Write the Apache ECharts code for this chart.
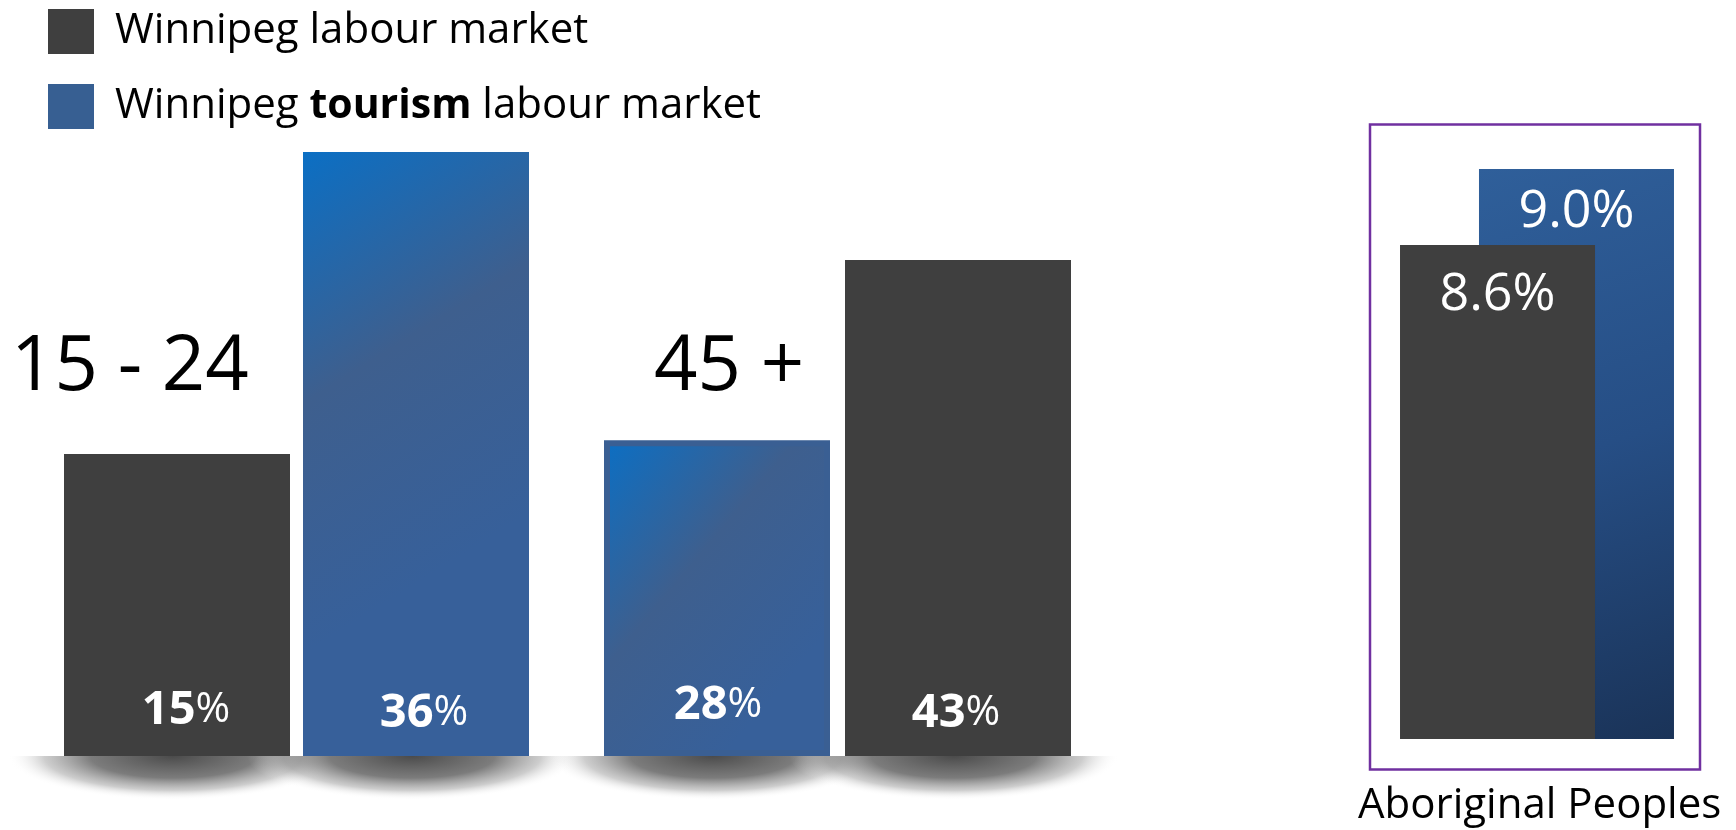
<!DOCTYPE html>
<html>
<head>
<meta charset="utf-8">
<script src="https://cdn.jsdelivr.net/npm/echarts@6/dist/echarts.min.js"></script>
<style>
html,body{margin:0;padding:0;background:#fff;}
#chart{width:1736px;height:830px;}
</style>
</head>
<body>
<div id="chart"></div>
<script>
// ---- data ----
const seriesNames = ['Winnipeg labour market', 'Winnipeg tourism labour market'];
const categoriesYoung = ['15 - 24'];
const categoriesOld = ['45 +'];
const categoriesAboriginal = ['Aboriginal Peoples'];
const winnipegYoung = [15];
const tourismYoung = [36];
const tourismOld = [28];
const winnipegOld = [43];
const winnipegAboriginal = [8.6];
const tourismAboriginal = [9.0];

// ---- styling ----
const FONT = 'Open Sans';
const DARK = '#3f3f3f';
const chart = echarts.init(document.getElementById('chart'), null, {renderer: 'canvas'});
const G = echarts.graphic;

const mkBlue = () => new G.LinearGradient(0, 0, 1, 0.6, [
  {offset: 0, color: '#0b6fc4'},
  {offset: 0.5, color: '#3e5f8e'},
  {offset: 1, color: '#37609a'}
]);
const blueAboriginal = new G.LinearGradient(0, 0, 1, 1, [
  {offset: 0, color: '#2f5f9a'},
  {offset: 0.5, color: '#264e85'},
  {offset: 1, color: '#1a3358'}
]);

const BAR_W = 226;
const GAP_A = 13, GAP_B = 15;

function pctLabel(dist, dx) {
  return {
    show: true, position: 'insideBottom', distance: dist, offset: [dx, 0],
    formatter: p => '{n|' + p.value + '}{p|%}',
    rich: {
      n: {fontFamily: FONT, fontSize: 47, fontWeight: 'bold', color: '#fff'},
      p: {fontFamily: FONT, fontSize: 42, color: '#fff'}
    }
  };
}
function aboriginalLabel(dist) {
  return {
    show: true, position: 'insideTop', distance: dist,
    formatter: p => Number(p.value).toFixed(1) + '%',
    fontFamily: FONT, fontSize: 52, color: '#fff'
  };
}
function shadowSeries(gridIdx, cats, gap, yBase) {
  return {
    type: 'custom', xAxisIndex: gridIdx, yAxisIndex: gridIdx, z: 1, silent: true,
    data: cats.map((c, i) => [i, yBase]),
    encode: {x: 0, y: 1},
    renderItem: (params, api) => {
      const pt = api.coord([api.value(0), api.value(1)]);
      const off = (BAR_W + gap) / 2;
      const RX = 165, RY = 44;
      return {
        type: 'group',
        children: [-1, 1].map(s => ({
          type: 'sector', x: pt[0] + s * off - 4, y: pt[1], scaleY: RY / RX,
          shape: {cx: 0, cy: 0, r: RX, r0: 0, startAngle: 0, endAngle: Math.PI, clockwise: true},
          style: {
            fill: new G.RadialGradient(0.5, 0, 1, [
              {offset: 0, color: 'rgba(55,55,55,0.9)'},
              {offset: 0.5, color: 'rgba(80,80,80,0.75)'},
              {offset: 0.78, color: 'rgba(130,130,130,0.4)'},
              {offset: 1, color: 'rgba(255,255,255,0)'}
            ])
          }
        }))
      };
    }
  };
}

const AX = {
  young: {min: -6, max: 36},
  old: {min: 1.7, max: 43},
  abo: {min: 6, max: 9}
};
const hiddenX = (gi, data) => ({type: 'category', gridIndex: gi, data: data, show: false});
const hiddenY = (gi, r) => ({type: 'value', gridIndex: gi, min: r.min, max: r.max, startValue: r.min, show: false, splitLine: {show: false}});

const option = {
  animation: false,
  backgroundColor: '#fff',
  legend: {
    orient: 'vertical', left: 48, top: 9, padding: 0,
    itemWidth: 46, itemHeight: 45, itemGap: 30,
    icon: 'rect',
    data: [
      {name: seriesNames[0], itemStyle: {color: DARK}},
      {name: seriesNames[1], itemStyle: {color: '#375f92'}}
    ],
    formatter: name => name === seriesNames[1] ? 'Winnipeg {b|tourism} labour market' : name,
    textStyle: {
      fontFamily: FONT, fontSize: 42, color: '#000', lineHeight: 45, padding: [0, 0, 0, 16],
      rich: {b: {fontFamily: FONT, fontSize: 41, fontWeight: 'bold', color: '#000', lineHeight: 45}}
    }
  },
  grid: [
    {left: 64, width: 465, top: 152, bottom: 74},
    {left: 604, width: 467, top: 260, bottom: 74},
    {left: 1400, width: 274, top: 169, bottom: 91},
    {left: 1370, width: 330, top: 124.5, height: 645, show: true, borderColor: '#7030a0', borderWidth: 2.5, backgroundColor: 'transparent'}
  ],
  xAxis: [
    hiddenX(0, categoriesYoung), hiddenX(1, categoriesOld), hiddenX(2, categoriesAboriginal), hiddenX(3, categoriesAboriginal)
  ],
  yAxis: [
    hiddenY(0, AX.young), hiddenY(1, AX.old), hiddenY(2, AX.abo), hiddenY(3, {min: 0, max: 1})
  ],
  graphic: [
    {type: 'text', left: 11, top: 330, style: {text: categoriesYoung[0], fontFamily: FONT, fontSize: 76, fill: '#000'}},
    {type: 'text', left: 654, top: 330, style: {text: categoriesOld[0], fontFamily: FONT, fontSize: 76, fill: '#000'}},
    {type: 'text', left: 1358, top: 785, style: {text: categoriesAboriginal[0], fontFamily: FONT, fontSize: 42, fill: '#000'}}
  ],
  series: [
    shadowSeries(0, categoriesYoung, GAP_A, AX.young.min),
    shadowSeries(1, categoriesOld, GAP_B, AX.old.min),
    {name: seriesNames[0], type: 'bar', xAxisIndex: 0, yAxisIndex: 0, z: 2, data: winnipegYoung,
     barWidth: BAR_W, barGap: (GAP_A / BAR_W * 100) + '%', itemStyle: {color: DARK}, label: pctLabel(22, 9)},
    {name: seriesNames[1], type: 'bar', xAxisIndex: 0, yAxisIndex: 0, z: 2, data: tourismYoung,
     barWidth: BAR_W, barGap: (GAP_A / BAR_W * 100) + '%', itemStyle: {color: mkBlue()}, label: pctLabel(19, 8)},
    {name: seriesNames[1], type: 'bar', xAxisIndex: 1, yAxisIndex: 1, z: 2, data: tourismOld,
     barWidth: BAR_W, barGap: (GAP_B / BAR_W * 100) + '%', itemStyle: {color: mkBlue(), borderColor: '#3a5f93', borderWidth: 6}, label: pctLabel(27, 1)},
    {name: seriesNames[0], type: 'bar', xAxisIndex: 1, yAxisIndex: 1, z: 2, data: winnipegOld,
     barWidth: BAR_W, barGap: (GAP_B / BAR_W * 100) + '%', itemStyle: {color: DARK}, label: pctLabel(19, -2)},
    {name: seriesNames[0], type: 'bar', xAxisIndex: 2, yAxisIndex: 2, z: 3, data: winnipegAboriginal,
     barWidth: 195, barGap: '-59.5%', itemStyle: {color: DARK}, label: aboriginalLabel(24)},
    {name: seriesNames[1], type: 'bar', xAxisIndex: 2, yAxisIndex: 2, z: 2, data: tourismAboriginal,
     barWidth: 195, barGap: '-59.5%', itemStyle: {color: blueAboriginal}, label: aboriginalLabel(17)}
  ]
};
chart.setOption(option);
</script>
</body>
</html>
